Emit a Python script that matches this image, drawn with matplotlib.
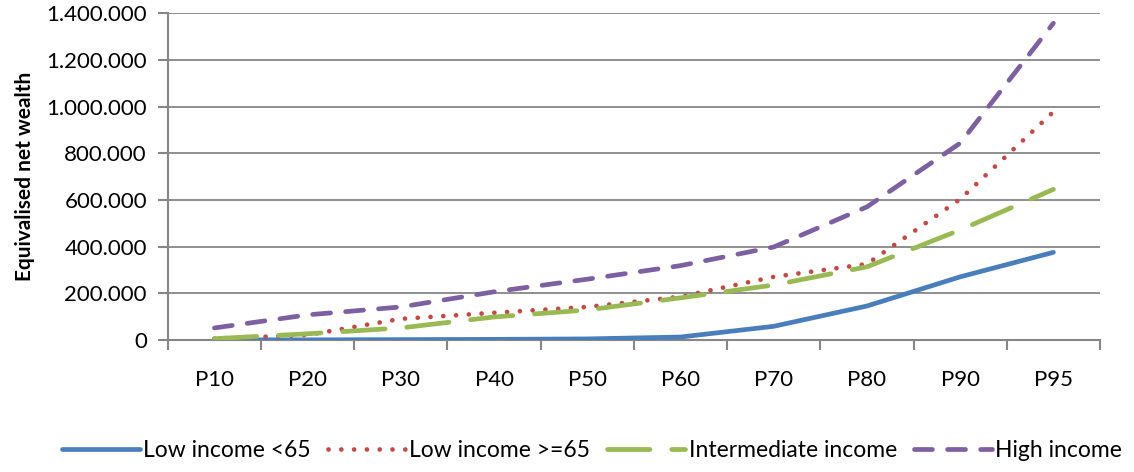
import matplotlib
matplotlib.use("Agg")
import matplotlib.pyplot as plt
from matplotlib.ticker import FuncFormatter, MultipleLocator, FixedLocator

categories = ["P10", "P20", "P30", "P40", "P50", "P60", "P70", "P80", "P90", "P95"]
low_under65 = [0, 0, 1000, 2000, 4000, 12000, 58000, 145000, 270000, 375000]
low_over65 = [5000, 21000, 90000, 116000, 141000, 185000, 270000, 325000, 603000, 977000]
intermediate = [5000, 26000, 51000, 98000, 128000, 180000, 235000, 313000, 471000, 645000]
high = [51000, 107000, 141000, 206000, 260000, 318000, 398000, 570000, 843000, 1357000]
series_names = ["Low income <65", "Low income >=65", "Intermediate income", "High income"]

plt.rcParams['font.family'] = ['Lato', 'DejaVu Sans']

fig = plt.figure(figsize=(11.34, 4.72), dpi=100)
ax = fig.add_axes([0.148, 0.280, 0.822, 0.692])

x = list(range(len(categories)))
lw = 3.4
ax.plot(x, low_under65, color="#4A7EBB", lw=lw, solid_capstyle='round', label=series_names[0], zorder=3)
ax.plot(x, low_over65, color="#BE4B48", lw=lw, dashes=(0.01, 2.7), dash_capstyle='round', label=series_names[1], zorder=4)
ax.plot(x, intermediate, color="#98B954", lw=lw, dashes=(9, 4.6), dash_capstyle='round', label=series_names[2], zorder=5)
ax.plot(x, high, color="#7D60A0", lw=lw, dashes=(3.8, 3.2), dash_capstyle='round', label=series_names[3], zorder=6)

ax.set_xlim(-0.5, len(categories) - 0.5)
ax.set_ylim(0, 1400000)
ax.yaxis.set_major_locator(MultipleLocator(200000))
ax.yaxis.set_major_formatter(FuncFormatter(lambda v, p: f"{int(round(v)):,}".replace(",", ".")))
ax.set_xticks(x)
ax.set_xticklabels(categories)
ax.xaxis.set_minor_locator(FixedLocator([i - 0.5 for i in range(len(categories) + 1)]))
ax.tick_params(axis='x', which='major', length=0, pad=22, labelsize=16)
ax.tick_params(axis='x', which='minor', length=7, width=1.5, color="#868686")
ax.tick_params(axis='y', length=7, width=1.5, color="#868686", labelsize=16, pad=8)

ax.grid(axis='y', color="#868686", lw=1.3)
ax.set_axisbelow(True)
for s in ["top", "right"]:
    ax.spines[s].set_visible(False)
for s in ["left", "bottom"]:
    ax.spines[s].set_color("#868686")
    ax.spines[s].set_linewidth(1.5)

ax.set_ylabel("Equivalised net wealth", fontsize=15, fontweight='bold', labelpad=8)

fig.legend(loc='lower center', bbox_to_anchor=(0.522, -0.015), ncol=4, frameon=False,
           fontsize=16.5, handlelength=3.4, handletextpad=0.15, columnspacing=0.75,
           borderpad=0.3)

fig.savefig("out.png", dpi=100)
